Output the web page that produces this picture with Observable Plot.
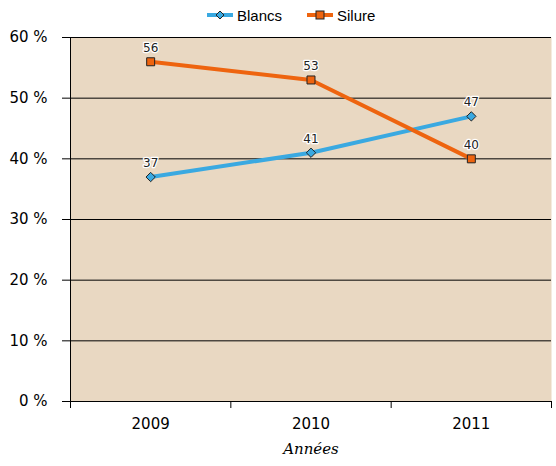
<!DOCTYPE html>
<html><head><meta charset="utf-8">
<script src="https://cdn.jsdelivr.net/npm/d3@7"></script>
<script src="https://cdn.jsdelivr.net/npm/@observablehq/plot@0.6"></script>
<style>
body{margin:0;background:#fff;position:relative;}
#legend{position:absolute;top:0;left:0;height:30px;display:flex;align-items:center;padding-left:207px;gap:25px;font-family:"Liberation Sans",Arial,sans-serif;font-size:15px;color:#000}
#legend .item{display:flex;align-items:center;gap:4px}
#chart svg{display:block}
</style></head><body>
<div id="chart"></div>
<div id="legend"></div>
<script>
const years = [2009, 2010, 2011];
const blancs = [37, 41, 47];
const silure = [56, 53, 40];
const seriesNames = ["Blancs", "Silure"];
const seriesColors = ["#3AA9E1", "#EE640F"];
const yTicks = [0, 10, 20, 30, 40, 50, 60];
const xLabel = "Années";

const data = years.flatMap((yr, i) => [
  {year: yr, value: blancs[i], series: "Blancs"},
  {year: yr, value: silure[i], series: "Silure"}
]);

// Legend
const legend = document.getElementById("legend");
seriesNames.forEach((name, i) => {
  const item = document.createElement("div");
  item.className = "item";
  const sym = i === 0
    ? `<path d="M13 2 L17 6 L13 10 L9 6 Z" fill="${seriesColors[i]}" stroke="#222" stroke-width="1"/>`
    : `<rect x="9" y="2" width="8" height="8" fill="${seriesColors[i]}" stroke="#222" stroke-width="1"/>`;
  item.innerHTML = `<svg width="26" height="12"><line x1="0" x2="26" y1="6" y2="6" stroke="${seriesColors[i]}" stroke-width="4"/>${sym}</svg><span>${name}</span>`;
  legend.appendChild(item);
});

const edges = [years[0] - 0.5, ...years.map(y => y + 0.5)];

const chart = Plot.plot({
  width: 556,
  height: 466,
  marginTop: 37,
  marginBottom: 65,
  marginLeft: 70,
  marginRight: 5,
  style: {fontFamily: "'DejaVu Sans', Verdana, sans-serif", fontSize: "15px", background: "white", color: "#000"},
  x: {type: "linear", domain: [edges[0], edges[edges.length - 1]]},
  y: {domain: [0, 60]},
  color: {domain: seriesNames, range: seriesColors},
  marks: [
    Plot.frame({fill: "#E9D8C2", stroke: null}),
    Plot.ruleY(yTicks, {stroke: "#000", strokeWidth: 1}),
    Plot.ruleX([edges[0]], {stroke: "#000", strokeWidth: 1}),
    Plot.axisY({ticks: yTicks, tickFormat: d => d + " %", tickSize: 8, tickPadding: 15, label: null}),
    Plot.axisX({ticks: years, tickSize: 0, tickPadding: 17, tickFormat: d => String(d), label: null}),
    Plot.axisX({ticks: edges, tickSize: 7, tickFormat: () => "", label: null}),
    Plot.text([xLabel], {frameAnchor: "bottom", dy: 52, fontStyle: "italic", fontFamily: "'DejaVu Serif', serif", fontSize: 15}),
    Plot.line(data, {x: "year", y: "value", z: "series", stroke: "series", strokeWidth: 4}),
    Plot.dot(data.filter(d => d.series === "Blancs"), {x: "year", y: "value", symbol: "diamond2", r: 4.2, fill: seriesColors[0], stroke: "#222", strokeWidth: 1}),
    Plot.dot(data.filter(d => d.series === "Silure"), {x: "year", y: "value", symbol: "square", r: 4.5, fill: seriesColors[1], stroke: "#222", strokeWidth: 1}),
    Plot.text(data, {x: "year", y: "value", text: d => String(d.value), dy: -14, fontSize: 12, fill: "#222", stroke: "white", strokeWidth: 2.5})
  ]
});
document.getElementById("chart").appendChild(chart);
</script>
</body></html>
